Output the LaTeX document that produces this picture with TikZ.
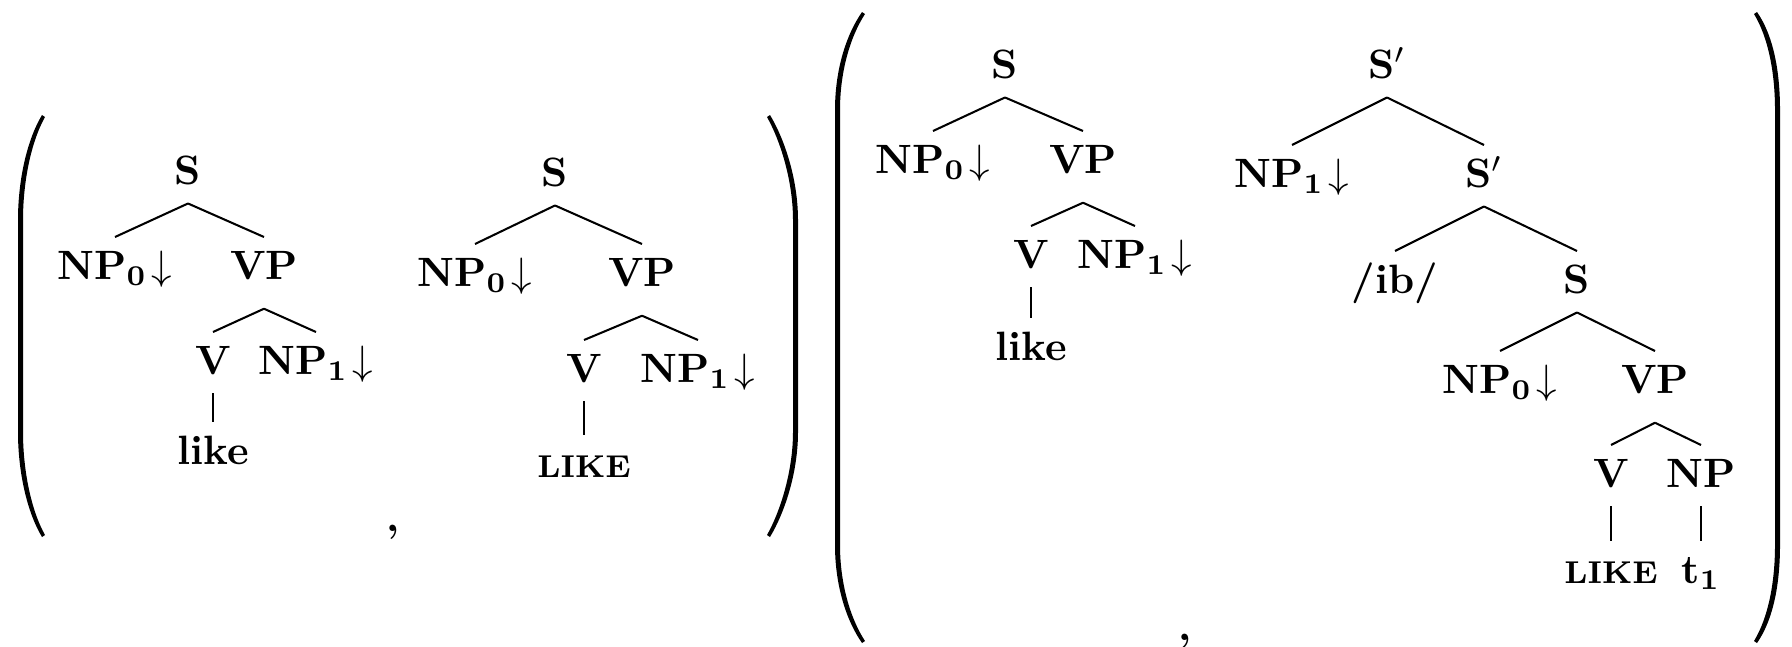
\documentclass[tikz,border=0pt]{standalone}
\usepackage{amsmath}
\usepackage{amssymb}
\usepackage{tikz}

\begin{document}
\begin{tikzpicture}[x=0.244pt, y=-0.244pt, line width=0.5pt,
    lab/.style={anchor=base, inner xsep=0pt, inner ysep=3pt, text height=7pt, text depth=1.5pt, font=\bfseries},
    deep/.style={text depth=4pt},
    lexcaps/.style={font=\bfseries\fontsize{7.7}{9}\selectfont}]
      \useasboundingbox (0,0) rectangle (1792,646);
      % first pair
      \fill (42,115) .. controls (27,140) and (18,180) .. (18,220) -- (18,432) .. controls (18,472) and (27,512) .. (42,537) -- (45,535) .. controls (31,510) and (23,470) .. (23,432) -- (23,220) .. controls (23,182) and (31,142) .. (45,117) -- cycle;
      \fill (770,115) .. controls (785,140) and (798,180) .. (798,220) -- (798,432) .. controls (798,472) and (785,512) .. (770,537) -- (767,535) .. controls (781,510) and (793,470) .. (793,432) -- (793,220) .. controls (793,182) and (781,142) .. (767,117) -- cycle;
      % like
      \draw (188,184) node[lab](sa){S};
      \draw (115,279) node[lab](npa0){NP$_{\mathbf{0}}\mkern2mu{\downarrow}$};
      \draw (264,279) node[lab, deep](vpa){VP};
      \draw (213,374) node[lab](va){V};
      \draw (316,374) node[lab](npa1){NP$_{\mathbf{1}}\mkern2mu{\downarrow}$};
      \draw (213,464) node[lab](likea){like};
      \draw (sa.south) -- (npa0.north) (sa.south) -- (vpa.north);
      \draw (vpa.south) -- (va.north) (vpa.south) -- (npa1.north);
      \draw (va.south) -- (likea.north);
      \draw (393,531) node[anchor=base, font=\bfseries](commaa){,};
      % LIKE
      \draw (555,186) node[lab](sb){S};
      \draw (475,286) node[lab](npb0){NP$_{\mathbf{0}}\mkern2mu{\downarrow}$};
      \draw (642,286) node[lab, deep](vpb){VP};
      \draw (584,382) node[lab](vb){V};
      \draw (698,382) node[lab](npb1){NP$_{\mathbf{1}}\mkern2mu{\downarrow}$};
      \draw (584,477) node[lab, lexcaps](likeb){LIKE};
      \draw (sb.south) -- (npb0.north) (sb.south) -- (vpb.north);
      \draw (vpb.south) -- (vb.north) (vpb.south) -- (npb1.north);
      \draw (vb.south) -- (likeb.north);
      % second pair
      \fill (862,12) .. controls (846,35) and (835,70) .. (835,110) -- (835,545) .. controls (835,585) and (846,620) .. (862,643) -- (865,641) .. controls (850,618) and (840,583) .. (840,545) -- (840,110) .. controls (840,72) and (850,37) .. (865,14) -- cycle;
      \fill (1757,12) .. controls (1773,35) and (1780,70) .. (1780,110) -- (1780,545) .. controls (1780,585) and (1773,620) .. (1757,643) -- (1754,641) .. controls (1768,618) and (1775,583) .. (1775,545) -- (1775,110) .. controls (1775,72) and (1768,37) .. (1754,14) -- cycle;
      % like
      \draw (1005,78) node[lab](sc){S};
      \draw (933,173) node[lab](npc0){NP$_{\mathbf{0}}\mkern2mu{\downarrow}$};
      \draw (1083,173) node[lab, deep](vpc){VP};
      \draw (1031,268) node[lab](vc){V};
      \draw (1135,268) node[lab](npc1){NP$_{\mathbf{1}}\mkern2mu{\downarrow}$};
      \draw (1031,360) node[lab](likec){like};
      \draw (sc.south) -- (npc0.north) (sc.south) -- (vpc.north);
      \draw (vpc.south) -- (vc.north) (vpc.south) -- (npc1.north);
      \draw (vc.south) -- (likec.north);
      % topicalised LIKE
      \draw (1387,78) node[lab](sbard){S$'$};
      \draw (1292,187) node[lab](npd1){NP$_{\mathbf{1}}\mkern2mu{\downarrow}$};
      \draw (1484,187) node[lab](sbare){S$'$};
      \draw (1395,293) node[lab](ib){/ib/};
      \draw (1577,293) node[lab](sd){S};
      \draw (1500,393) node[lab](npd0){NP$_{\mathbf{0}}\mkern2mu{\downarrow}$};
      \draw (1655,393) node[lab, deep](vpd){VP};
      \draw (1611,487) node[lab](vd){V};
      \draw (1701,487) node[lab](npd){NP};
      \draw (1611,583) node[lab, lexcaps](liked){LIKE};
      \draw (1701,583) node[lab](trace){t$_{\mathbf{1}}$};
      \draw (sbard.south) -- (npd1.north) (sbard.south) -- (sbare.north);
      \draw (sbare.south) -- (ib.north) (sbare.south) -- (sd.north);
      \draw (sd.south) -- (npd0.north) (sd.south) -- (vpd.north);
      \draw (vpd.south) -- (vd.north) (vpd.south) -- (npd.north);
      \draw (vd.south) -- (liked.north);
      \draw (npd.south) -- (trace.north);
      \draw (1185,640) node[anchor=base, font=\bfseries](commab){,};
\end{tikzpicture}
\end{document}
